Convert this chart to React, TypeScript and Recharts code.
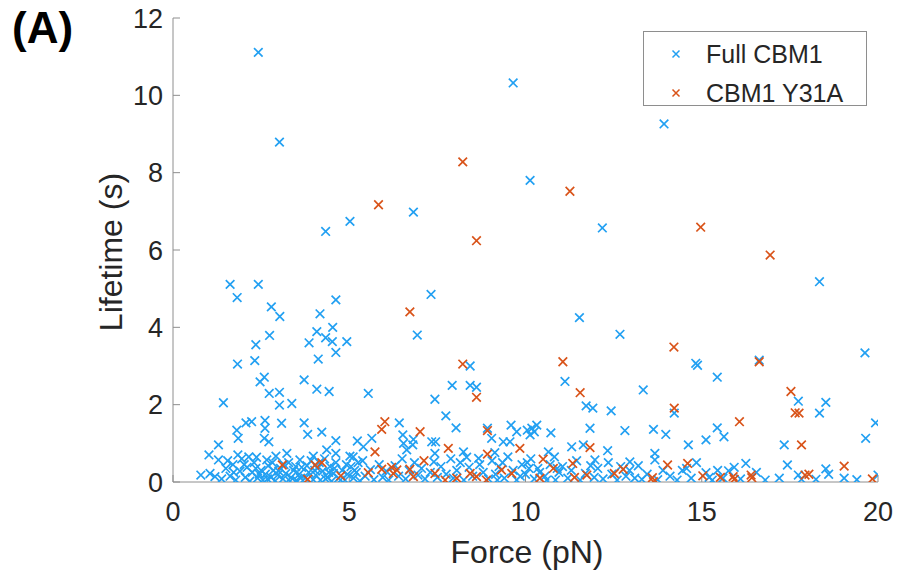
import React from 'react'
import {
  ScatterChart,
  Scatter,
  XAxis,
  YAxis,
  Legend,
  Label,
} from 'recharts'

type Pt = [number, number]

// force (pN), lifetime (s)
const fullCbm1Upper: Pt[] = [
  [2.42, 11.11], [3.02, 8.79], [9.65, 10.32], [13.93, 9.26], [10.13, 7.8],
  [12.18, 6.57], [6.82, 6.98], [5.02, 6.74], [4.33, 6.48], [18.34, 5.18],
  [7.32, 4.85], [6.93, 3.8], [8.43, 3.0], [7.92, 2.5], [8.43, 2.5],
  [8.61, 2.45], [11.53, 4.25], [12.68, 3.82], [11.12, 2.6], [14.83, 3.07],
  [14.88, 3.02], [16.63, 3.15], [15.44, 2.71], [19.63, 3.34],
  [1.62, 5.11], [2.42, 5.11], [1.82, 4.77], [2.79, 4.53], [3.03, 4.28],
  [4.62, 4.71], [4.17, 4.35], [4.53, 4.0], [4.08, 3.89], [4.33, 3.73],
  [4.52, 3.63], [4.93, 3.63], [3.86, 3.6], [4.62, 3.35], [4.12, 3.18],
  [2.74, 3.79], [2.35, 3.55], [2.32, 3.14], [1.83, 3.05], [2.59, 2.71],
  [2.47, 2.59], [3.72, 2.64],
]

const fullCbm1Middle: Pt[] = [
  [2.73, 2.29], [3.02, 2.32], [1.43, 2.05], [3.02, 1.99], [3.37, 2.03],
  [4.08, 2.4], [4.43, 2.34], [2.07, 1.53], [2.23, 1.56], [2.61, 1.59],
  [2.61, 1.39], [3.08, 1.52], [3.72, 1.53], [1.81, 1.34], [1.85, 1.13],
  [3.82, 1.23], [4.22, 1.29], [2.59, 1.13], [2.72, 1.04], [4.62, 1.07],
  [1.29, 0.96], [1.02, 0.7], [1.29, 0.57], [1.84, 0.7], [2.37, 0.64],
  [2.66, 0.57], [2.92, 0.67], [3.23, 0.74], [3.6, 0.57], [3.98, 0.67],
  [4.36, 0.83], [4.62, 0.74], [5.02, 0.67], [0.79, 0.18], [1.19, 0.14],
  [5.54, 2.29], [7.43, 2.14], [7.74, 1.71], [8.03, 1.4], [6.42, 1.53],
  [6.52, 1.22], [6.82, 1.1], [5.23, 1.06], [5.64, 1.13], [5.4, 0.91],
  [6.54, 1.0], [6.63, 0.83], [6.8, 0.96], [7.34, 1.04], [7.45, 1.04],
  [7.43, 0.74], [8.24, 0.78], [8.33, 0.64], [8.92, 1.39], [9.04, 1.13],
  [9.37, 1.04], [9.56, 1.04], [9.59, 1.47], [9.75, 1.3], [10.05, 1.34],
  [9.13, 0.76], [8.67, 0.61], [5.11, 0.65],
  [13.34, 2.38], [14.22, 1.78], [11.72, 1.97], [11.91, 1.91], [12.43, 1.84],
  [10.18, 1.39], [10.32, 1.47], [10.13, 1.22], [10.25, 1.3], [10.72, 1.27],
  [11.83, 1.39], [12.82, 1.33], [13.63, 1.36], [13.98, 1.23], [14.62, 0.96],
  [11.31, 0.91], [11.64, 0.96], [12.33, 0.81], [10.65, 0.78], [10.82, 0.65],
  [11.97, 0.57], [12.96, 0.52], [13.67, 0.74], [13.67, 0.57], [14.57, 0.35],
  [13.3, 0.07], [10.1, 0.35],
  [17.74, 2.09], [18.52, 2.06], [18.34, 1.78], [15.44, 1.4], [15.12, 1.09],
  [15.63, 1.17], [19.93, 1.53], [19.65, 1.13], [17.34, 0.96], [17.43, 0.44],
  [18.52, 0.34], [16.25, 0.48], [15.92, 0.38], [15.76, 0.29], [15.12, 0.24],
  [15.21, 0.12], [17.74, 0.18], [17.83, 0.07], [18.24, 0.07], [19.04, 0.1],
  [20.0, 0.18],
]

const fullCbm1Lower: Pt[] = [
  [1.05, 0.22], [1.38, 0.08], [1.5, 0.35], [1.62, 0.15], [1.7, 0.45],
  [1.78, 0.05], [1.9, 0.28], [1.95, 0.6], [2.05, 0.12], [2.1, 0.38],
  [2.18, 0.02], [2.25, 0.25], [2.3, 0.5], [2.4, 0.1], [2.5, 0.3],
  [2.55, 0.05], [2.62, 0.2], [2.7, 0.42], [2.78, 0.12], [2.85, 0.3],
  [2.9, 0.03], [2.97, 0.18], [3.05, 0.35], [3.12, 0.08], [3.2, 0.22],
  [3.28, 0.5], [3.35, 0.12], [3.42, 0.3], [3.5, 0.04], [3.58, 0.2],
  [3.65, 0.38], [3.75, 0.1], [3.85, 0.25], [3.92, 0.55], [3.98, 0.06],
  [4.05, 0.18], [4.1, 0.35], [4.18, 0.05], [4.25, 0.28], [4.3, 0.6],
  [4.38, 0.12], [4.45, 0.4], [4.5, 0.02], [4.55, 0.22], [4.62, 0.5],
  [4.7, 0.1], [4.8, 0.3], [4.88, 0.05], [4.95, 0.2], [5.05, 0.4],
  [5.12, 0.1], [5.2, 0.25], [5.3, 0.03], [5.38, 0.55], [5.45, 0.15],
  [5.6, 0.32], [5.7, 0.06], [5.85, 0.45], [5.95, 0.12], [6.05, 0.28],
  [6.12, 0.05], [6.3, 0.42], [6.4, 0.15], [6.5, 0.6], [6.6, 0.08],
  [6.7, 0.3], [6.85, 0.5], [6.95, 0.18], [7.05, 0.35], [7.15, 0.08],
  [7.3, 0.25], [7.4, 0.52], [7.5, 0.12], [7.6, 0.4], [7.75, 0.2],
  [7.88, 0.6], [7.95, 0.1], [8.05, 0.3], [8.15, 0.5], [8.25, 0.05],
  [8.4, 0.38], [8.5, 0.15], [8.7, 0.45], [8.8, 0.25], [8.95, 0.08],
  [9.05, 0.55], [9.15, 0.2], [9.25, 0.4], [9.4, 0.1], [9.5, 0.65],
  [9.65, 0.3], [9.75, 0.05], [9.9, 0.45], [10.0, 0.2], [10.15, 0.6],
  [10.25, 0.08], [10.35, 0.35], [10.55, 0.15], [10.7, 0.45], [10.85, 0.05],
  [10.95, 0.25], [11.05, 0.4], [11.2, 0.1], [11.3, 0.3], [11.45, 0.55],
  [11.55, 0.05], [11.7, 0.22], [11.85, 0.42], [11.95, 0.12], [12.05, 0.35],
  [12.2, 0.08], [12.35, 0.5], [12.45, 0.2], [12.6, 0.05], [12.7, 0.4],
  [12.85, 0.15], [12.95, 0.3], [13.1, 0.1], [13.2, 0.42], [13.45, 0.2],
  [13.75, 0.06], [13.9, 0.3], [14.1, 0.15], [14.3, 0.05], [14.45, 0.3],
  [14.7, 0.1], [14.85, 0.5], [15.3, 0.05], [15.45, 0.3], [15.6, 0.1],
  [16.1, 0.08], [16.55, 0.25], [16.8, 0.05], [17.2, 0.1], [18.6, 0.2],
  [19.4, 0.06],
  [1.55, 0.55], [1.72, 0.25], [2.02, 0.45], [2.15, 0.65], [2.35, 0.35],
  [2.45, 0.2], [2.68, 0.08], [2.82, 0.5], [3.0, 0.28], [3.15, 0.45],
  [3.32, 0.02], [3.48, 0.4], [3.62, 0.1], [3.8, 0.42], [4.02, 0.3],
  [4.15, 0.5], [4.33, 0.08], [4.42, 0.25], [4.58, 0.35], [4.75, 0.05],
  [4.92, 0.45], [5.15, 0.3], [5.25, 0.5], [9.2, 0.05], [9.35, 0.5],
  [9.85, 0.15], [10.05, 0.5], [10.4, 0.25], [10.6, 0.05], [10.9, 0.35],
]

const y31aPoints: Pt[] = [
  [8.22, 8.28], [5.83, 7.17], [8.61, 6.24], [11.26, 7.52], [14.97, 6.59],
  [16.94, 5.87], [6.72, 4.4], [8.22, 3.05], [11.06, 3.11], [14.21, 3.49],
  [16.63, 3.11],
  [3.1, 0.44], [4.03, 0.44], [4.22, 0.5], [3.82, 0.07], [4.76, 0.16],
  [8.61, 2.19], [6.01, 1.56], [5.92, 1.36], [7.01, 1.3], [7.81, 0.87],
  [5.73, 0.78], [8.92, 1.33], [9.84, 0.87], [8.92, 0.72], [7.12, 0.55],
  [5.54, 0.24], [5.92, 0.33], [6.2, 0.38], [6.25, 0.22], [6.35, 0.31],
  [6.72, 0.33], [6.82, 0.14], [7.43, 0.22], [7.72, 0.05], [8.05, 0.1],
  [8.43, 0.22], [8.61, 0.14], [8.89, 0.05], [9.32, 0.31], [9.61, 0.22],
  [11.55, 2.31], [14.22, 1.91], [11.83, 0.89], [10.5, 0.59], [11.34, 0.48],
  [10.79, 0.35], [10.41, 0.1], [11.39, 0.12], [11.74, 0.18], [12.77, 0.33],
  [12.52, 0.22], [14.03, 0.44], [14.6, 0.48], [13.6, 0.11], [13.63, 0.01],
  [17.53, 2.34], [17.65, 1.79], [17.76, 1.78], [16.07, 1.56], [17.83, 0.96],
  [19.04, 0.41], [15.03, 0.16], [15.53, 0.12], [15.89, 0.14], [15.92, 0.07],
  [16.4, 0.18], [16.42, 0.11], [17.93, 0.18], [18.04, 0.2], [19.84, 0.08],
]

const forceTicks = [0, 5, 10, 15, 20]
const lifetimeTicks = [0, 2, 4, 6, 8, 10, 12]

const BLUE = '#22a0f2'
const ORANGE = '#d95319'
const AXIS = '#8e8e8e'
const INK = '#262626'
const FONT = '"Liberation Sans", Arial, Helvetica, sans-serif'

const toRows = (pts: Pt[]) => pts.map(([force, lifetime]) => ({ force, lifetime }))
const fullRows = toRows([...fullCbm1Upper, ...fullCbm1Middle, ...fullCbm1Lower])
const y31aRows = toRows(y31aPoints)

const cross = (color: string, r = 4.3) => (props: any) => {
  const { cx, cy } = props
  if (cx == null || cy == null) return <g />
  return (
    <path
      d={`M${cx - r},${cy - r}L${cx + r},${cy + r}M${cx - r},${cy + r}L${cx + r},${cy - r}`}
      stroke={color}
      strokeWidth={1.7}
      fill='none'
    />
  )
}

const LegendBox = () => (
  <div
    style={{
      position: 'relative',
      width: 224,
      height: 75,
      boxSizing: 'border-box',
      border: `1px solid ${AXIS}`,
      background: '#fff',
      fontFamily: FONT,
      fontSize: 25,
      color: INK,
    }}>
    {[
      { name: 'Full CBM1', color: BLUE, top: 22 },
      { name: 'CBM1 Y31A', color: ORANGE, top: 61 },
    ].map((item) => (
      <div key={item.name}>
        <svg
          width={10}
          height={10}
          style={{ position: 'absolute', left: 27, top: item.top - 5 }}>
          <path d='M1.5,1.5L8.5,8.5M1.5,8.5L8.5,1.5' stroke={item.color} strokeWidth={1.5} />
        </svg>
        <span
          style={{
            position: 'absolute',
            left: 62,
            top: item.top,
            transform: 'translateY(-50%)',
            lineHeight: 1,
            whiteSpace: 'nowrap',
          }}>
          {item.name}
        </span>
      </div>
    ))}
  </div>
)

export default function App() {
  return (
    <div
      style={{
        position: 'absolute',
        left: 0,
        top: 0,
        width: 898,
        height: 577,
        background: '#fff',
      }}>
      <div
        style={{
          position: 'absolute',
          left: 12,
          top: 2,
          fontFamily: FONT,
          fontWeight: 700,
          fontSize: 44,
          lineHeight: '52px',
          color: '#000',
        }}>
        (A)
      </div>
      <ScatterChart
        width={898}
        height={577}
        margin={{ top: 18, right: 20, bottom: 0, left: 0 }}>
        <XAxis
          type='number'
          dataKey='force'
          domain={[0, 20]}
          ticks={forceTicks}
          height={95}
          stroke={AXIS}
          tickSize={-7}
          tickMargin={27}
          tick={{ fill: INK, fontSize: 27, fontFamily: FONT }}
          allowDataOverflow>
          <Label
            content={() => (
              <text
                x={527}
                y={563}
                textAnchor='middle'
                fill={INK}
                fontSize={32}
                fontFamily={FONT}>
                Force (pN)
              </text>
            )}
          />
        </XAxis>
        <YAxis
          type='number'
          dataKey='lifetime'
          domain={[0, 12]}
          ticks={lifetimeTicks}
          width={173}
          stroke={AXIS}
          tickSize={-7}
          tickMargin={17}
          tick={{ fill: INK, fontSize: 27, fontFamily: FONT }}
          allowDataOverflow>
          <Label
            content={() => (
              <text
                x={122}
                y={252}
                transform='rotate(-90 122 252)'
                textAnchor='middle'
                fill={INK}
                fontSize={32}
                fontFamily={FONT}>
                Lifetime (s)
              </text>
            )}
          />
        </YAxis>
        <Legend
          layout='horizontal'
          verticalAlign='middle'
          align='center'
          wrapperStyle={{ position: 'absolute', left: 643, top: 31, width: 224 }}
          content={() => <LegendBox />}
        />
        <Scatter
          name='Full CBM1'
          data={fullRows}
          shape={cross(BLUE)}
          isAnimationActive={false}
        />
        <Scatter
          name='CBM1 Y31A'
          data={y31aRows}
          shape={cross(ORANGE)}
          isAnimationActive={false}
        />
      </ScatterChart>
    </div>
  )
}
